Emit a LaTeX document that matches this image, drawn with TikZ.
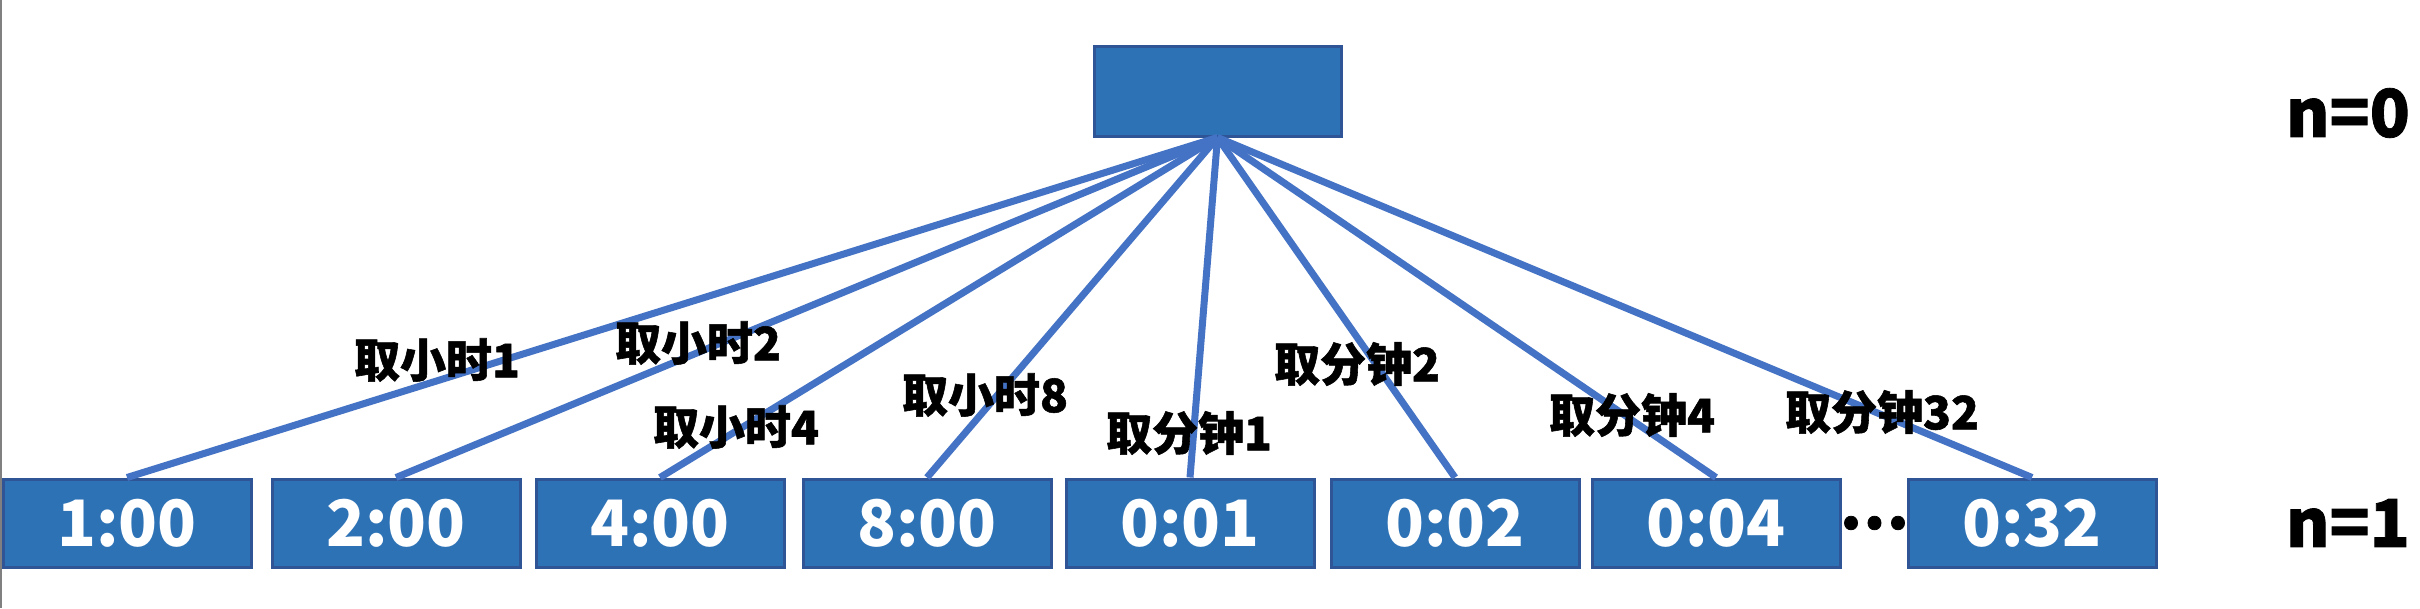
\documentclass[tikz,border=0pt]{standalone}
\usepackage{fontspec}
\newfontfamily\cjk{Noto Sans CJK SC}[BoldFeatures={FakeBold=1.2}]
\newfontfamily\cjkb{Noto Sans CJK SC}
\definecolor{boxfill}{HTML}{2E72B6}
\definecolor{boxedge}{HTML}{2F5597}
\definecolor{conncol}{HTML}{4472C4}
\tikzset{
  blkbox/.style={draw=boxedge, fill=boxfill, line width=3pt, minimum width=248pt, minimum height=88pt, inner sep=0pt,
    text=white, font=\cjkb\bfseries\fontsize{64}{70}\selectfont},
  conn/.style={draw=conncol, line width=7pt},
  elabel/.style={inner sep=0pt, font=\cjk\bfseries\fontsize{46}{52}\selectfont},
  nlabel/.style={inner sep=0pt, font=\cjk\bfseries\fontsize{66}{74}\selectfont},
}
\begin{document}
\begin{tikzpicture}[x=1pt,y=-1pt]
\useasboundingbox (0,0) rectangle (2420,608);
\fill[white] (0,0) rectangle (2420,608);
\draw[gray, line width=2pt] (1,0) -- (1,608);
% top node
\node[blkbox, minimum width=247pt, minimum height=90pt] (top) at (1217.5,91) {};
% bottom nodes
\node[blkbox] (b1) at (127,523) {1:00};
\node[blkbox] (b2) at (396,523) {2:00};
\node[blkbox] (b3) at (660,523) {4:00};
\node[blkbox] (b4) at (927,523) {8:00};
\node[blkbox] (b5) at (1190,523) {0:01};
\node[blkbox] (b6) at (1455,523) {0:02};
\node[blkbox] (b7) at (1716,523) {0:04};
\node[blkbox] (b8) at (2032,523) {0:32};
\node[inner sep=0pt, font=\cjk\bfseries\fontsize{62}{68}\selectfont] (dots) at (1874,523) {…};
% connectors
\foreach \b in {b1,b2,b3,b4,b5,b6,b7,b8}
  \draw[conn] (top.south) -- (\b.north);
% edge labels
\node[elabel] (l1) at (437,360) {取小时1};
\node[elabel] (l2) at (698,343) {取小时2};
\node[elabel] (l3) at (736,427) {取小时4};
\node[elabel] (l4) at (985,395) {取小时8};
\node[elabel] (l5) at (1189,433) {取分钟1};
\node[elabel] (l6) at (1357,364) {取分钟2};
\node[elabel] (l7) at (1632,415) {取分钟4};
\node[elabel] (l8) at (1882,412) {取分钟32};
% level labels
\node[nlabel] (n0) at (2348,113) {n=0};
\node[nlabel] (n1) at (2348,523) {n=1};
\end{tikzpicture}
\end{document}
